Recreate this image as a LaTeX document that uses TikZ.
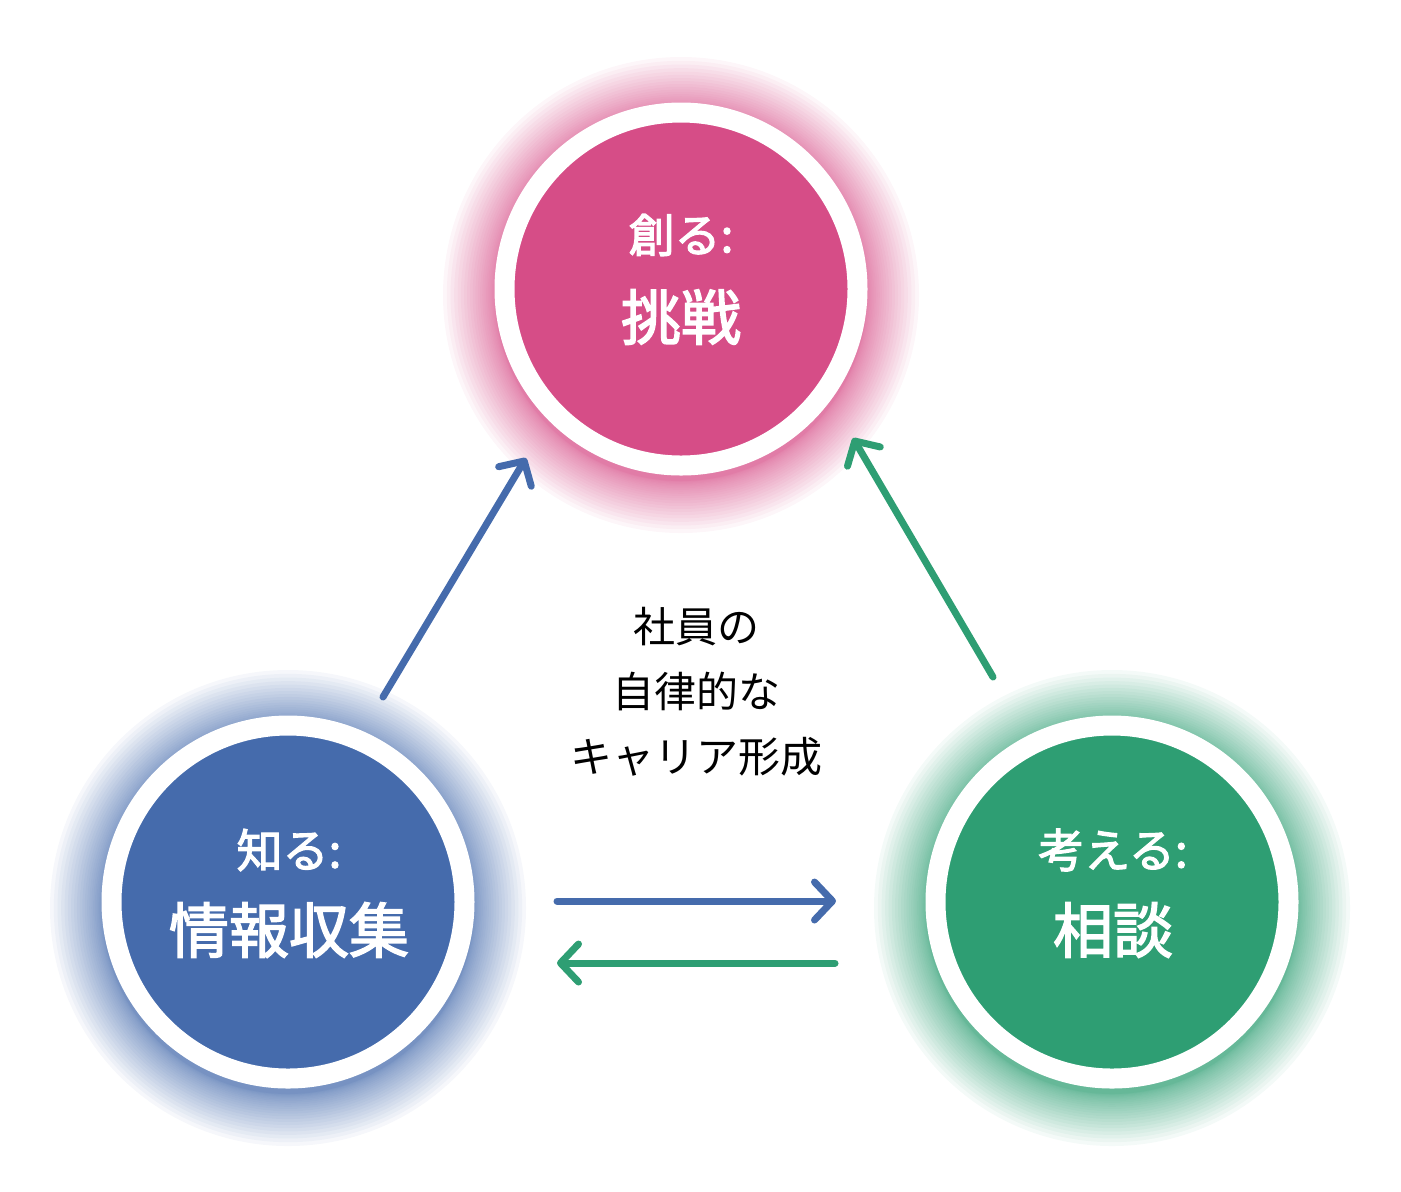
\documentclass[tikz,border=0pt]{standalone}
\usepackage{fontspec}
\setmainfont{Noto Sans CJK JP}
\newfontfamily\stagefont[FakeBold=2.5]{Noto Sans CJK JP}
\usetikzlibrary{arrows.meta}

\definecolor{CreatePink}{HTML}{D64D87}
\definecolor{KnowBlue}{HTML}{456BAC}
\definecolor{ThinkGreen}{HTML}{2E9E73}

\tikzset{
	stage/.style={circle, draw=white, line width=10pt, minimum size=176.5pt, inner sep=0pt},
	stagehead/.style={text=white, font=\stagefont\fontsize{23pt}{27pt}\selectfont},
	stagename/.style={text=white, font=\stagefont\fontsize{30pt}{36pt}\selectfont},
	flow/.style={line width=3.5pt, line cap=round,
		-{Straight Barb[length=9pt,width=19pt,line cap=round,line join=round]}}
}

\begin{document}
\begin{tikzpicture}[x=0.5pt,y=-0.5pt]
		\useasboundingbox (0,0) rectangle (1401,1191);
		\coordinate (CreateC) at (681,289);
		\coordinate (KnowC)   at (288,902);
		\coordinate (ThinkC)  at (1112,902);

		% soft glow behind each circle
		\foreach \c/\col in {CreateC/CreatePink,KnowC/KnowBlue,ThinkC/ThinkGreen}{%
		  \foreach \r in {0,...,24}{%
			\fill[\col, opacity=0.05] ([yshift=-3pt]\c) circle ({186+52*(\r/24)^1.8});
		  }
		}

		\node[stage, fill=CreatePink] (create) at (CreateC) {};
		\node[stage, fill=KnowBlue]   (know)   at (KnowC)   {};
		\node[stage, fill=ThinkGreen] (think)  at (ThinkC)  {};

		\node[stagehead] (createhead) at (681,235) {創る:};
		\node[stagename] (createname) at (681,317) {挑戦};
		\node[stagehead] (knowhead)   at (289,850) {知る:};
		\node[stagename] (knowname)   at (289,930) {情報収集};
		\node[stagehead] (thinkhead)  at (1113,850) {考える:};
		\node[stagename] (thinkname)  at (1113,930) {相談};

		\node[align=center, font=\fontsize{21pt}{32.5pt}\selectfont] (goal) at (696,692)
		  {社員の\\自律的な\\キャリア形成};

		% connectors
		\coordinate (KnowOut)   at (383,697);
		\coordinate (CreateInL) at (526,458);
		\coordinate (ThinkOut)  at (993,677);
		\coordinate (CreateInR) at (853,438);
		\coordinate (KnowR)     at (557,901);
		\coordinate (ThinkL)    at (836,901);
		\coordinate (ThinkL2)   at (835,963);
		\coordinate (KnowR2)    at (557,963);
		\draw[flow, KnowBlue]   (KnowOut) -- (CreateInL);
		\draw[flow, ThinkGreen] (ThinkOut) -- (CreateInR);
		\draw[flow, KnowBlue]   (KnowR) -- (ThinkL);
		\draw[flow, ThinkGreen] (ThinkL2) -- (KnowR2);
\end{tikzpicture}
\end{document}
